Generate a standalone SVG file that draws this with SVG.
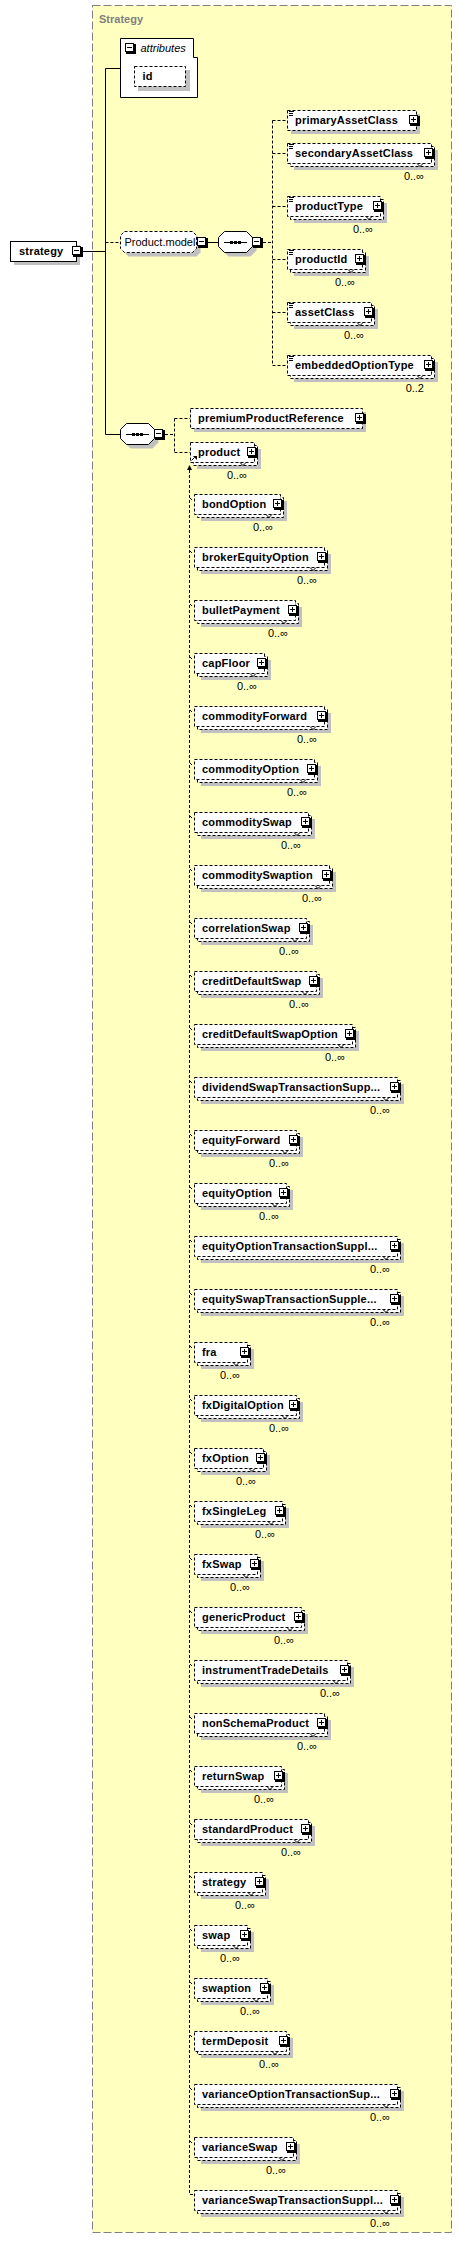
<svg xmlns="http://www.w3.org/2000/svg" xmlns:xlink="http://www.w3.org/1999/xlink" width="462" height="2248" viewBox="0 0 462 2248">
<style>
text{font-family:"Liberation Sans",Arial,sans-serif;font-size:11px;fill:#000}
.b{font-weight:bold;letter-spacing:0.2px}
.i{font-style:italic}
.ttl{font-weight:bold;fill:#808080}
.oc{text-anchor:end}
.el{fill:#fff;stroke:#000;stroke-dasharray:3 2}
.so{fill:#fff;stroke:#000}
.sh{fill:#c0c0c0}
.cn{fill:none;stroke:#000}
.cd{fill:none;stroke:#000;stroke-dasharray:3 2}
.nt{fill:none;stroke:#000}
.ic{fill:none;stroke:#000}
</style>
<defs>
<g id="plus"><rect x=".5" y=".5" width="8" height="8" fill="#fff" stroke="#000"/><path d="M10 1V10H1" fill="none" stroke="#000" stroke-width="2"/><path d="M2 4.5H7M4.5 2V7" stroke="#000"/></g>
<g id="minus"><rect x=".5" y=".5" width="8" height="8" fill="#fff" stroke="#000"/><path d="M10 1V10H1" fill="none" stroke="#000" stroke-width="2"/><path d="M2 4.5H7" stroke="#000"/></g>
<path id="seqshape" d="M6.5 .5H28.5L34.5 6.5V15.5L28.5 21.5H6.5L.5 15.5V6.5Z"/>
<g id="seq"><use xlink:href="#seqshape" x="4" y="4" class="sh"/><use xlink:href="#seqshape" class="so"/><path d="M6 11.5H29" stroke="#000"/><rect x="12" y="10" width="3" height="3"/><rect x="16" y="10" width="3" height="3"/><rect x="20" y="10" width="3" height="3"/></g>
</defs>

<g id="group_Strategy">
<rect x="92.5" y="5.5" width="359" height="2227" fill="#ffffc0" stroke="#808080" stroke-dasharray="8 3"/>
<text class="ttl" x="99" y="23">Strategy</text>
</g>

<g id="connectors">
<path class="cn" d="M82 251.5H105.5M105.5 68.5V434.5M105.5 68.5H120.5M207 242.5H218M105.5 434.5H120"/>
<path class="cd" d="M105.5 242.5H120.5M263 242.5H272.5M272.5 120.5V365.5M272.5 120.5H287.5M272.5 153.5H287.5M272.5 206.5H287.5M272.5 259.5H287.5M272.5 312.5H287.5M272.5 365.5H287.5"/>
<path class="cd" d="M165 434.5H174.5M174.5 418.5V452.5M174.5 418.5H190.5M174.5 452.5H190.5"/>
<polygon points="189.5,465 187,470 192,470" fill="#000"/>
<path class="cd" d="M189.5 470V2194.5H193"/>
<path class="cn" d="M190 498l2 2M190 551l2 2M190 604l2 2M190 657l2 2M190 710l2 2M190 763l2 2M190 816l2 2M190 869l2 2M190 922l2 2M190 975l2 2M190 1028l2 2M190 1081l2 2M190 1134l2 2M190 1187l2 2M190 1240l2 2M190 1293l2 2M190 1346l2 2M190 1399l2 2M190 1452l2 2M190 1505l2 2M190 1558l2 2M190 1611l2 2M190 1664l2 2M190 1717l2 2M190 1770l2 2M190 1823l2 2M190 1876l2 2M190 1929l2 2M190 1982l2 2M190 2035l2 2M190 2088l2 2M190 2141l2 2"/>
</g>

<g id="n_strategy_root">
<rect class="sh" x="14" y="245" width="66" height="20"/>
<rect class="so" x="10.5" y="241.5" width="66" height="20"/>
<text class="b" x="19" y="255">strategy</text>
<use xlink:href="#minus" x="72" y="246"/>
</g>

<g id="n_attributes">
<path class="so" d="M120.5 38.5H193.5V57.5H197.5V97.5H120.5Z"/>
<use xlink:href="#minus" x="125" y="43"/>
<text class="i" x="140.5" y="51.5">attributes</text>
</g>
<g id="n_id">
<rect class="sh" x="138" y="70" width="52" height="21"/>
<rect class="el" x="134.5" y="66.5" width="51" height="20"/>
<text class="b" x="142.5" y="80">id</text>
</g>

<g id="n_Product_model">
<path class="sh" transform="translate(124 235)" d="M4.5 .5H72.5L76.5 4.5V17.5L72.5 21.5H4.5L.5 17.5V4.5Z"/>
<path class="el" transform="translate(120 231)" d="M4.5 .5H72.5L76.5 4.5V17.5L72.5 21.5H4.5L.5 17.5V4.5Z"/>
<text x="124.5" y="246">Product.model</text>
<use xlink:href="#minus" x="197" y="237"/>
</g>

<g id="n_sequence1">
<use xlink:href="#seq" transform="translate(218 231)"/>
<use xlink:href="#minus" x="252" y="237"/>
</g>

<g id="n_primaryAssetClass">
<rect class="sh" x="291" y="114" width="129" height="20"/>
<rect class="el" x="287.5" y="110.5" width="129" height="20"/>
<path class="ic" d="M289 111.5h5M289 113.5h4M289 115.5h4"/>
<text class="b" x="295" y="124">primaryAssetClass</text>
<use xlink:href="#plus" x="409" y="115"/>
</g>
<g id="n_secondaryAssetClass">
<rect class="sh" x="294" y="150" width="144" height="20"/>
<rect class="el" x="290.5" y="146.5" width="144" height="20"/>
<rect class="el" x="287.5" y="143.5" width="144" height="20"/>
<path class="nt" d="M417 163.5l3 3l3 -3"/>
<path class="ic" d="M289 144.5h5M289 146.5h4M289 148.5h4"/>
<text class="b" x="295" y="157">secondaryAssetClass</text>
<use xlink:href="#plus" x="424" y="148"/>
<text class="oc" x="424" y="180">0..∞</text>
</g>
<g id="n_productType">
<rect class="sh" x="294" y="203" width="93" height="20"/>
<rect class="el" x="290.5" y="199.5" width="93" height="20"/>
<rect class="el" x="287.5" y="196.5" width="93" height="20"/>
<path class="nt" d="M366 216.5l3 3l3 -3"/>
<path class="ic" d="M289 197.5h5M289 199.5h4M289 201.5h4"/>
<text class="b" x="295" y="210">productType</text>
<use xlink:href="#plus" x="373" y="201"/>
<text class="oc" x="373" y="233">0..∞</text>
</g>
<g id="n_productId">
<rect class="sh" x="294" y="256" width="75" height="20"/>
<rect class="el" x="290.5" y="252.5" width="75" height="20"/>
<rect class="el" x="287.5" y="249.5" width="75" height="20"/>
<path class="nt" d="M348 269.5l3 3l3 -3"/>
<path class="ic" d="M289 250.5h5M289 252.5h4M289 254.5h4"/>
<text class="b" x="295" y="263">productId</text>
<use xlink:href="#plus" x="355" y="254"/>
<text class="oc" x="355" y="286">0..∞</text>
</g>
<g id="n_assetClass">
<rect class="sh" x="294" y="309" width="84" height="20"/>
<rect class="el" x="290.5" y="305.5" width="84" height="20"/>
<rect class="el" x="287.5" y="302.5" width="84" height="20"/>
<path class="nt" d="M357 322.5l3 3l3 -3"/>
<path class="ic" d="M289 303.5h5M289 305.5h4M289 307.5h4"/>
<text class="b" x="295" y="316">assetClass</text>
<use xlink:href="#plus" x="364" y="307"/>
<text class="oc" x="364" y="339">0..∞</text>
</g>
<g id="n_embeddedOptionType">
<rect class="sh" x="294" y="362" width="144" height="20"/>
<rect class="el" x="290.5" y="358.5" width="144" height="20"/>
<rect class="el" x="287.5" y="355.5" width="144" height="20"/>
<path class="nt" d="M417 375.5l3 3l3 -3"/>
<path class="ic" d="M289 356.5h5M289 358.5h4M289 360.5h4"/>
<text class="b" x="295" y="369">embeddedOptionType</text>
<use xlink:href="#plus" x="424" y="360"/>
<text class="oc" x="424" y="392">0..2</text>
</g>

<g id="n_sequence2">
<use xlink:href="#seq" transform="translate(120 423)"/>
<use xlink:href="#minus" x="154" y="429"/>
</g>

<g id="n_premiumProductReference">
<rect class="sh" x="194" y="412" width="172" height="20"/>
<rect class="el" x="190.5" y="408.5" width="172" height="20"/>
<text class="b" x="198" y="422">premiumProductReference</text>
<use xlink:href="#plus" x="355" y="413"/>
</g>
<g id="n_product">
<rect class="sh" x="197" y="449" width="64" height="20"/>
<rect class="el" x="193.5" y="445.5" width="64" height="20"/>
<rect class="el" x="190.5" y="442.5" width="64" height="20"/>
<path class="nt" d="M240 462.5l3 3l3 -3"/>
<text class="b" x="198" y="456">product</text>
<path d="M191.5 460.5L194.5 457.5" stroke="#000"/><polygon points="193,456 197,456 197,460" fill="#000"/>
<use xlink:href="#plus" x="247" y="447"/>
<text class="oc" x="247" y="479">0..∞</text>
</g>

<g id="n_bondOption"><rect class="sh" x="201" y="501" width="86" height="20"/><rect class="el" x="197.5" y="497.5" width="86" height="20"/><rect class="el" x="194.5" y="494.5" width="86" height="20"/><path class="nt" d="M266 514.5l3 3l3 -3"/><text class="b" x="202" y="508">bondOption</text><use xlink:href="#plus" x="273" y="499"/><text class="oc" x="273" y="531">0..∞</text></g>
<g id="n_brokerEquityOption"><rect class="sh" x="201" y="554" width="130" height="20"/><rect class="el" x="197.5" y="550.5" width="130" height="20"/><rect class="el" x="194.5" y="547.5" width="130" height="20"/><path class="nt" d="M310 567.5l3 3l3 -3"/><text class="b" x="202" y="561">brokerEquityOption</text><use xlink:href="#plus" x="317" y="552"/><text class="oc" x="317" y="584">0..∞</text></g>
<g id="n_bulletPayment"><rect class="sh" x="201" y="607" width="101" height="20"/><rect class="el" x="197.5" y="603.5" width="101" height="20"/><rect class="el" x="194.5" y="600.5" width="101" height="20"/><path class="nt" d="M281 620.5l3 3l3 -3"/><text class="b" x="202" y="614">bulletPayment</text><use xlink:href="#plus" x="288" y="605"/><text class="oc" x="288" y="637">0..∞</text></g>
<g id="n_capFloor"><rect class="sh" x="201" y="660" width="70" height="20"/><rect class="el" x="197.5" y="656.5" width="70" height="20"/><rect class="el" x="194.5" y="653.5" width="70" height="20"/><path class="nt" d="M250 673.5l3 3l3 -3"/><text class="b" x="202" y="667">capFloor</text><use xlink:href="#plus" x="257" y="658"/><text class="oc" x="257" y="690">0..∞</text></g>
<g id="n_commodityForward"><rect class="sh" x="201" y="713" width="130" height="20"/><rect class="el" x="197.5" y="709.5" width="130" height="20"/><rect class="el" x="194.5" y="706.5" width="130" height="20"/><path class="nt" d="M310 726.5l3 3l3 -3"/><text class="b" x="202" y="720">commodityForward</text><use xlink:href="#plus" x="317" y="711"/><text class="oc" x="317" y="743">0..∞</text></g>
<g id="n_commodityOption"><rect class="sh" x="201" y="766" width="120" height="20"/><rect class="el" x="197.5" y="762.5" width="120" height="20"/><rect class="el" x="194.5" y="759.5" width="120" height="20"/><path class="nt" d="M300 779.5l3 3l3 -3"/><text class="b" x="202" y="773">commodityOption</text><use xlink:href="#plus" x="307" y="764"/><text class="oc" x="307" y="796">0..∞</text></g>
<g id="n_commoditySwap"><rect class="sh" x="201" y="819" width="114" height="20"/><rect class="el" x="197.5" y="815.5" width="114" height="20"/><rect class="el" x="194.5" y="812.5" width="114" height="20"/><path class="nt" d="M294 832.5l3 3l3 -3"/><text class="b" x="202" y="826">commoditySwap</text><use xlink:href="#plus" x="301" y="817"/><text class="oc" x="301" y="849">0..∞</text></g>
<g id="n_commoditySwaption"><rect class="sh" x="201" y="872" width="135" height="20"/><rect class="el" x="197.5" y="868.5" width="135" height="20"/><rect class="el" x="194.5" y="865.5" width="135" height="20"/><path class="nt" d="M315 885.5l3 3l3 -3"/><text class="b" x="202" y="879">commoditySwaption</text><use xlink:href="#plus" x="322" y="870"/><text class="oc" x="322" y="902">0..∞</text></g>
<g id="n_correlationSwap"><rect class="sh" x="201" y="925" width="112" height="20"/><rect class="el" x="197.5" y="921.5" width="112" height="20"/><rect class="el" x="194.5" y="918.5" width="112" height="20"/><path class="nt" d="M292 938.5l3 3l3 -3"/><text class="b" x="202" y="932">correlationSwap</text><use xlink:href="#plus" x="299" y="923"/><text class="oc" x="299" y="955">0..∞</text></g>
<g id="n_creditDefaultSwap"><rect class="sh" x="201" y="978" width="122" height="20"/><rect class="el" x="197.5" y="974.5" width="122" height="20"/><rect class="el" x="194.5" y="971.5" width="122" height="20"/><path class="nt" d="M302 991.5l3 3l3 -3"/><text class="b" x="202" y="985">creditDefaultSwap</text><use xlink:href="#plus" x="309" y="976"/><text class="oc" x="309" y="1008">0..∞</text></g>
<g id="n_creditDefaultSwapOption"><rect class="sh" x="201" y="1031" width="158" height="20"/><rect class="el" x="197.5" y="1027.5" width="158" height="20"/><rect class="el" x="194.5" y="1024.5" width="158" height="20"/><path class="nt" d="M338 1044.5l3 3l3 -3"/><text class="b" x="202" y="1038">creditDefaultSwapOption</text><use xlink:href="#plus" x="345" y="1029"/><text class="oc" x="345" y="1061">0..∞</text></g>
<g id="n_dividendSwapTransactionSupplement"><rect class="sh" x="201" y="1084" width="203" height="20"/><rect class="el" x="197.5" y="1080.5" width="203" height="20"/><rect class="el" x="194.5" y="1077.5" width="203" height="20"/><path class="nt" d="M383 1097.5l3 3l3 -3"/><text class="b" x="202" y="1091">dividendSwapTransactionSupp...</text><use xlink:href="#plus" x="390" y="1082"/><text class="oc" x="390" y="1114">0..∞</text></g>
<g id="n_equityForward"><rect class="sh" x="201" y="1137" width="102" height="20"/><rect class="el" x="197.5" y="1133.5" width="102" height="20"/><rect class="el" x="194.5" y="1130.5" width="102" height="20"/><path class="nt" d="M282 1150.5l3 3l3 -3"/><text class="b" x="202" y="1144">equityForward</text><use xlink:href="#plus" x="289" y="1135"/><text class="oc" x="289" y="1167">0..∞</text></g>
<g id="n_equityOption"><rect class="sh" x="201" y="1190" width="92" height="20"/><rect class="el" x="197.5" y="1186.5" width="92" height="20"/><rect class="el" x="194.5" y="1183.5" width="92" height="20"/><path class="nt" d="M272 1203.5l3 3l3 -3"/><text class="b" x="202" y="1197">equityOption</text><use xlink:href="#plus" x="279" y="1188"/><text class="oc" x="279" y="1220">0..∞</text></g>
<g id="n_equityOptionTransactionSupplement"><rect class="sh" x="201" y="1243" width="203" height="20"/><rect class="el" x="197.5" y="1239.5" width="203" height="20"/><rect class="el" x="194.5" y="1236.5" width="203" height="20"/><path class="nt" d="M383 1256.5l3 3l3 -3"/><text class="b" x="202" y="1250">equityOptionTransactionSuppl...</text><use xlink:href="#plus" x="390" y="1241"/><text class="oc" x="390" y="1273">0..∞</text></g>
<g id="n_equitySwapTransactionSupplement"><rect class="sh" x="201" y="1296" width="203" height="20"/><rect class="el" x="197.5" y="1292.5" width="203" height="20"/><rect class="el" x="194.5" y="1289.5" width="203" height="20"/><path class="nt" d="M383 1309.5l3 3l3 -3"/><text class="b" x="202" y="1303">equitySwapTransactionSupple...</text><use xlink:href="#plus" x="390" y="1294"/><text class="oc" x="390" y="1326">0..∞</text></g>
<g id="n_fra"><rect class="sh" x="201" y="1349" width="53" height="20"/><rect class="el" x="197.5" y="1345.5" width="53" height="20"/><rect class="el" x="194.5" y="1342.5" width="53" height="20"/><path class="nt" d="M233 1362.5l3 3l3 -3"/><text class="b" x="202" y="1356">fra</text><use xlink:href="#plus" x="240" y="1347"/><text class="oc" x="240" y="1379">0..∞</text></g>
<g id="n_fxDigitalOption"><rect class="sh" x="201" y="1402" width="102" height="20"/><rect class="el" x="197.5" y="1398.5" width="102" height="20"/><rect class="el" x="194.5" y="1395.5" width="102" height="20"/><path class="nt" d="M282 1415.5l3 3l3 -3"/><text class="b" x="202" y="1409">fxDigitalOption</text><use xlink:href="#plus" x="289" y="1400"/><text class="oc" x="289" y="1432">0..∞</text></g>
<g id="n_fxOption"><rect class="sh" x="201" y="1455" width="69" height="20"/><rect class="el" x="197.5" y="1451.5" width="69" height="20"/><rect class="el" x="194.5" y="1448.5" width="69" height="20"/><path class="nt" d="M249 1468.5l3 3l3 -3"/><text class="b" x="202" y="1462">fxOption</text><use xlink:href="#plus" x="256" y="1453"/><text class="oc" x="256" y="1485">0..∞</text></g>
<g id="n_fxSingleLeg"><rect class="sh" x="201" y="1508" width="88" height="20"/><rect class="el" x="197.5" y="1504.5" width="88" height="20"/><rect class="el" x="194.5" y="1501.5" width="88" height="20"/><path class="nt" d="M268 1521.5l3 3l3 -3"/><text class="b" x="202" y="1515">fxSingleLeg</text><use xlink:href="#plus" x="275" y="1506"/><text class="oc" x="275" y="1538">0..∞</text></g>
<g id="n_fxSwap"><rect class="sh" x="201" y="1561" width="63" height="20"/><rect class="el" x="197.5" y="1557.5" width="63" height="20"/><rect class="el" x="194.5" y="1554.5" width="63" height="20"/><path class="nt" d="M243 1574.5l3 3l3 -3"/><text class="b" x="202" y="1568">fxSwap</text><use xlink:href="#plus" x="250" y="1559"/><text class="oc" x="250" y="1591">0..∞</text></g>
<g id="n_genericProduct"><rect class="sh" x="201" y="1614" width="107" height="20"/><rect class="el" x="197.5" y="1610.5" width="107" height="20"/><rect class="el" x="194.5" y="1607.5" width="107" height="20"/><path class="nt" d="M287 1627.5l3 3l3 -3"/><text class="b" x="202" y="1621">genericProduct</text><use xlink:href="#plus" x="294" y="1612"/><text class="oc" x="294" y="1644">0..∞</text></g>
<g id="n_instrumentTradeDetails"><rect class="sh" x="201" y="1667" width="153" height="20"/><rect class="el" x="197.5" y="1663.5" width="153" height="20"/><rect class="el" x="194.5" y="1660.5" width="153" height="20"/><path class="nt" d="M333 1680.5l3 3l3 -3"/><text class="b" x="202" y="1674">instrumentTradeDetails</text><use xlink:href="#plus" x="340" y="1665"/><text class="oc" x="340" y="1697">0..∞</text></g>
<g id="n_nonSchemaProduct"><rect class="sh" x="201" y="1720" width="130" height="20"/><rect class="el" x="197.5" y="1716.5" width="130" height="20"/><rect class="el" x="194.5" y="1713.5" width="130" height="20"/><path class="nt" d="M310 1733.5l3 3l3 -3"/><text class="b" x="202" y="1727">nonSchemaProduct</text><use xlink:href="#plus" x="317" y="1718"/><text class="oc" x="317" y="1750">0..∞</text></g>
<g id="n_returnSwap"><rect class="sh" x="201" y="1773" width="87" height="20"/><rect class="el" x="197.5" y="1769.5" width="87" height="20"/><rect class="el" x="194.5" y="1766.5" width="87" height="20"/><path class="nt" d="M267 1786.5l3 3l3 -3"/><text class="b" x="202" y="1780">returnSwap</text><use xlink:href="#plus" x="274" y="1771"/><text class="oc" x="274" y="1803">0..∞</text></g>
<g id="n_standardProduct"><rect class="sh" x="201" y="1826" width="114" height="20"/><rect class="el" x="197.5" y="1822.5" width="114" height="20"/><rect class="el" x="194.5" y="1819.5" width="114" height="20"/><path class="nt" d="M294 1839.5l3 3l3 -3"/><text class="b" x="202" y="1833">standardProduct</text><use xlink:href="#plus" x="301" y="1824"/><text class="oc" x="301" y="1856">0..∞</text></g>
<g id="n_strategy"><rect class="sh" x="201" y="1879" width="68" height="20"/><rect class="el" x="197.5" y="1875.5" width="68" height="20"/><rect class="el" x="194.5" y="1872.5" width="68" height="20"/><path class="nt" d="M248 1892.5l3 3l3 -3"/><text class="b" x="202" y="1886">strategy</text><use xlink:href="#plus" x="255" y="1877"/><text class="oc" x="255" y="1909">0..∞</text></g>
<g id="n_swap"><rect class="sh" x="201" y="1932" width="53" height="20"/><rect class="el" x="197.5" y="1928.5" width="53" height="20"/><rect class="el" x="194.5" y="1925.5" width="53" height="20"/><path class="nt" d="M233 1945.5l3 3l3 -3"/><text class="b" x="202" y="1939">swap</text><use xlink:href="#plus" x="240" y="1930"/><text class="oc" x="240" y="1962">0..∞</text></g>
<g id="n_swaption"><rect class="sh" x="201" y="1985" width="73" height="20"/><rect class="el" x="197.5" y="1981.5" width="73" height="20"/><rect class="el" x="194.5" y="1978.5" width="73" height="20"/><path class="nt" d="M253 1998.5l3 3l3 -3"/><text class="b" x="202" y="1992">swaption</text><use xlink:href="#plus" x="260" y="1983"/><text class="oc" x="260" y="2015">0..∞</text></g>
<g id="n_termDeposit"><rect class="sh" x="201" y="2038" width="92" height="20"/><rect class="el" x="197.5" y="2034.5" width="92" height="20"/><rect class="el" x="194.5" y="2031.5" width="92" height="20"/><path class="nt" d="M272 2051.5l3 3l3 -3"/><text class="b" x="202" y="2045">termDeposit</text><use xlink:href="#plus" x="279" y="2036"/><text class="oc" x="279" y="2068">0..∞</text></g>
<g id="n_varianceOptionTransactionSupplement"><rect class="sh" x="201" y="2091" width="203" height="20"/><rect class="el" x="197.5" y="2087.5" width="203" height="20"/><rect class="el" x="194.5" y="2084.5" width="203" height="20"/><path class="nt" d="M383 2104.5l3 3l3 -3"/><text class="b" x="202" y="2098">varianceOptionTransactionSup...</text><use xlink:href="#plus" x="390" y="2089"/><text class="oc" x="390" y="2121">0..∞</text></g>
<g id="n_varianceSwap"><rect class="sh" x="201" y="2144" width="99" height="20"/><rect class="el" x="197.5" y="2140.5" width="99" height="20"/><rect class="el" x="194.5" y="2137.5" width="99" height="20"/><path class="nt" d="M279 2157.5l3 3l3 -3"/><text class="b" x="202" y="2151">varianceSwap</text><use xlink:href="#plus" x="286" y="2142"/><text class="oc" x="286" y="2174">0..∞</text></g>
<g id="n_varianceSwapTransactionSupplement"><rect class="sh" x="201" y="2197" width="203" height="20"/><rect class="el" x="197.5" y="2193.5" width="203" height="20"/><rect class="el" x="194.5" y="2190.5" width="203" height="20"/><path class="nt" d="M383 2210.5l3 3l3 -3"/><text class="b" x="202" y="2204">varianceSwapTransactionSuppl...</text><use xlink:href="#plus" x="390" y="2195"/><text class="oc" x="390" y="2227">0..∞</text></g>
</svg>
